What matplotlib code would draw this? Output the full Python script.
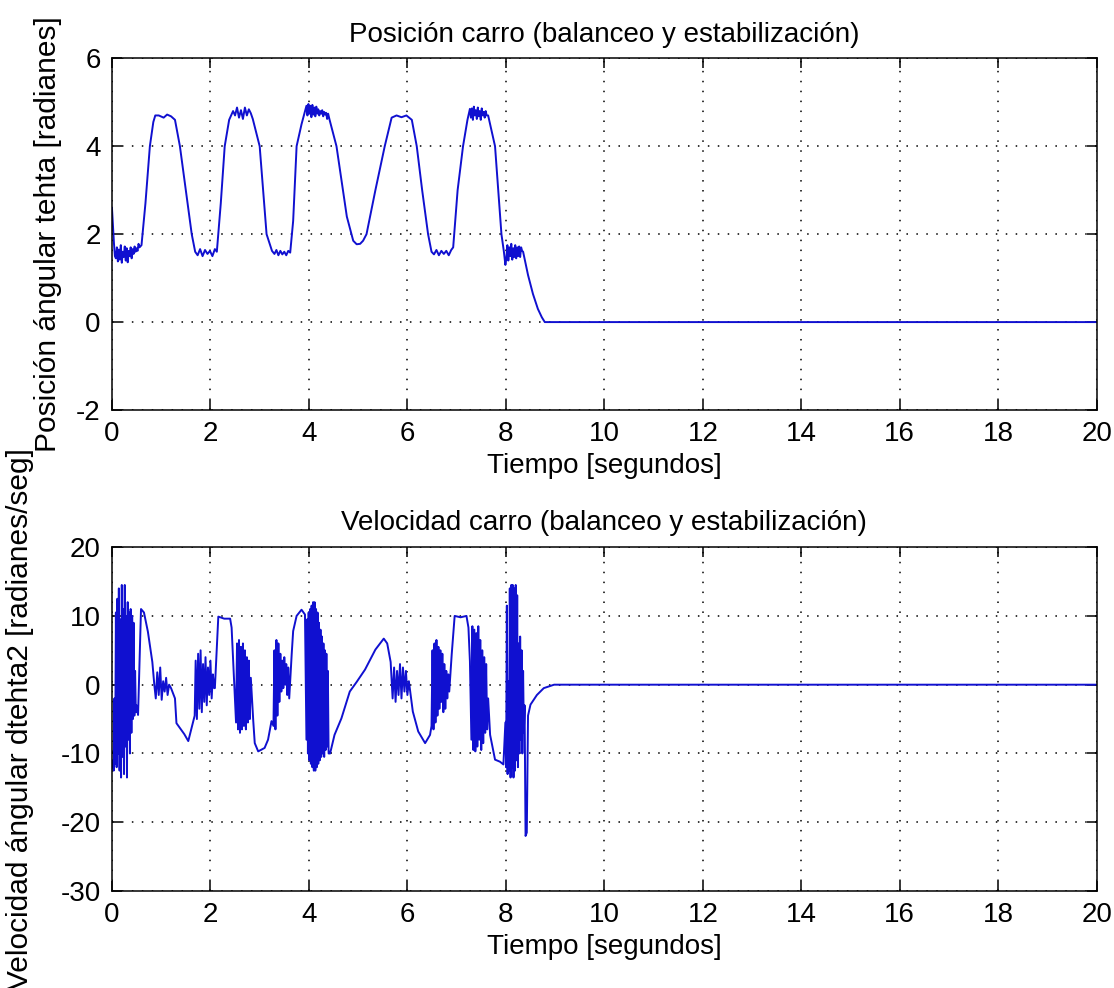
"""
  Pendulum cart: angular position and velocity vs time (two stacked panels)
"""
import matplotlib
matplotlib.use('Agg')
import matplotlib.pyplot as plt

# --- angular position theta [rad] ---
pos_t = [0.00, 0.02, 0.04, 0.06,
         0.08, 0.10, 0.12, 0.14, 0.16, 0.18, 0.20, 0.22, 0.24, 0.26, 0.28, 0.30, 0.32,
         0.34, 0.36, 0.38, 0.40, 0.42, 0.44, 0.46, 0.48, 0.50, 0.52, 0.54, 0.56,
         0.60, 0.68, 0.77, 0.84, 0.88,
         0.95, 1.05, 1.12, 1.20, 1.28,
         1.38, 1.50, 1.62, 1.69,
         1.74, 1.79, 1.84, 1.89, 1.94, 1.99, 2.04, 2.09, 2.13,
         2.21, 2.29, 2.38, 2.46,
         2.50, 2.54, 2.58, 2.62, 2.66, 2.70, 2.74, 2.78, 2.82, 2.86,
         3.00, 3.14, 3.25,
         3.30, 3.34, 3.38, 3.42, 3.46, 3.50, 3.54, 3.58, 3.62,
         3.68, 3.75, 3.85, 3.95,
         3.97, 3.99, 4.01, 4.03, 4.05, 4.07, 4.09, 4.11, 4.13, 4.15, 4.17, 4.19, 4.21,
         4.23, 4.25, 4.27, 4.29, 4.31, 4.33, 4.35, 4.37, 4.39, 4.42,
         4.56, 4.77, 4.90, 4.97, 5.04, 5.10,
         5.17, 5.35, 5.54, 5.68,
         5.78, 5.88, 5.98, 6.09,
         6.19, 6.30, 6.42, 6.49,
         6.54, 6.59, 6.64, 6.69, 6.74, 6.79, 6.84, 6.89, 6.93,
         7.02, 7.13, 7.22, 7.27,
         7.29, 7.31, 7.33, 7.35, 7.37, 7.39, 7.41, 7.43, 7.45, 7.47, 7.49, 7.51, 7.53,
         7.55, 7.57, 7.59, 7.61, 7.64,
         7.78, 7.91, 7.96, 7.99,
         8.01, 8.03, 8.05, 8.07, 8.09, 8.11, 8.13, 8.15, 8.17, 8.19, 8.21, 8.23, 8.25,
         8.27, 8.29, 8.31, 8.33, 8.35,
         8.45, 8.55, 8.65, 8.73, 8.79, 20.0]
pos = [2.60, 2.20, 1.80, 1.50,
       1.45, 1.70, 1.38, 1.65, 1.42, 1.75, 1.35, 1.60, 1.48, 1.72, 1.40, 1.68, 1.36,
       1.62, 1.50, 1.70, 1.45, 1.66, 1.55, 1.72, 1.60, 1.68, 1.62, 1.78, 1.70,
       1.75, 2.70, 4.00, 4.55, 4.70,
       4.70, 4.65, 4.72, 4.68, 4.60,
       4.00, 3.00, 2.00, 1.60,
       1.52, 1.66, 1.50, 1.64, 1.55, 1.62, 1.50, 1.66, 1.60,
       2.70, 4.00, 4.60, 4.80,
       4.70, 4.88, 4.65, 4.82, 4.62, 4.88, 4.70, 4.84, 4.75, 4.62,
       4.00, 2.00, 1.62,
       1.55, 1.64, 1.52, 1.62, 1.54, 1.60, 1.52, 1.62, 1.58,
       2.30, 4.00, 4.50, 4.92,
       4.70, 4.96, 4.74, 4.92, 4.66, 4.94, 4.72, 4.88, 4.68, 4.90, 4.74, 4.84, 4.70,
       4.80, 4.74, 4.82, 4.68, 4.78, 4.72, 4.76, 4.62, 4.74, 4.60,
       4.00, 2.40, 1.85, 1.77, 1.78, 1.85,
       2.00, 3.00, 4.00, 4.65,
       4.70, 4.66, 4.70, 4.60,
       4.00, 3.00, 2.00, 1.60,
       1.54, 1.64, 1.52, 1.62, 1.55, 1.62, 1.52, 1.64, 1.70,
       3.00, 4.00, 4.60, 4.85,
       4.65, 4.86, 4.60, 4.90, 4.70, 4.82, 4.62, 4.88, 4.68, 4.80, 4.60, 4.86, 4.70,
       4.78, 4.65, 4.80, 4.70, 4.70,
       4.00, 2.00, 1.60, 1.30,
       1.45, 1.75, 1.40, 1.70, 1.50, 1.78, 1.42, 1.68, 1.48, 1.75, 1.45, 1.70, 1.50,
       1.72, 1.48, 1.70, 1.62, 1.60,
       1.07, 0.64, 0.30, 0.11, 0.00, 0.00]

# --- angular velocity dtheta [rad/s] ---
vel_t = [0.000, 0.020, 0.035, 0.050, 0.065, 0.080, 0.095, 0.110, 0.125, 0.140, 0.155,
         0.170, 0.185, 0.200, 0.215, 0.230, 0.245, 0.260, 0.275, 0.290, 0.305, 0.320,
         0.335, 0.350, 0.365, 0.380, 0.395, 0.410, 0.425, 0.440, 0.455, 0.470, 0.485,
         0.500,
         0.53, 0.59, 0.65, 0.73, 0.82, 0.86,
         0.89, 0.92, 0.95, 0.98, 1.01, 1.04, 1.07, 1.10, 1.13, 1.16, 1.20,
         1.28, 1.31, 1.47, 1.55, 1.64,
         1.68, 1.700, 1.725, 1.750, 1.775, 1.800, 1.825, 1.850, 1.875, 1.900, 1.925,
         1.950, 1.975, 2.000, 2.025, 2.050, 2.075,
         2.09, 2.16, 2.28, 2.40, 2.43, 2.50,
         2.52, 2.54, 2.56, 2.58, 2.60, 2.62, 2.64, 2.66, 2.68, 2.70, 2.72, 2.74, 2.76,
         2.78, 2.80, 2.82,
         2.87, 2.90, 2.97, 3.10, 3.17, 3.24,
         3.28, 3.30, 3.32, 3.34, 3.36, 3.38, 3.40, 3.42, 3.44, 3.46, 3.48, 3.50, 3.52,
         3.54, 3.56, 3.58, 3.60,
         3.65, 3.68, 3.75, 3.85, 3.92,
         3.950, 3.965, 3.980, 3.995, 4.010, 4.025, 4.040, 4.055, 4.070, 4.085, 4.100,
         4.115, 4.130, 4.145, 4.160, 4.175, 4.190, 4.205, 4.220, 4.235, 4.250, 4.265,
         4.280, 4.295, 4.310, 4.325, 4.340, 4.355, 4.370, 4.385, 4.400,
         4.43, 4.52, 4.66, 4.83, 4.97, 5.14, 5.35, 5.52, 5.59, 5.66,
         5.70, 5.73, 5.76, 5.79, 5.82, 5.85, 5.88, 5.91, 5.94, 5.97, 6.00, 6.03,
         6.11, 6.22, 6.36, 6.46,
         6.49, 6.51, 6.53, 6.55, 6.57, 6.59, 6.61, 6.63, 6.65, 6.67, 6.69, 6.71, 6.73,
         6.75, 6.77, 6.79, 6.81, 6.83, 6.85,
         6.90, 6.96, 7.08, 7.20, 7.24, 7.27,
         7.30, 7.32, 7.34, 7.36, 7.38, 7.40, 7.42, 7.44, 7.46, 7.48, 7.50, 7.52, 7.54,
         7.56, 7.58, 7.60, 7.62, 7.64,
         7.68, 7.78, 7.88, 7.95,
         7.990, 8.005, 8.020, 8.035, 8.050, 8.065, 8.080, 8.095, 8.110, 8.125, 8.140,
         8.155, 8.170, 8.185, 8.200, 8.215, 8.230, 8.245, 8.260, 8.275, 8.290, 8.305,
         8.320, 8.335, 8.350, 8.365, 8.380,
         8.40, 8.425, 8.45, 8.50, 8.63, 8.77, 8.98, 20.0]
vel = [-12.0, -11.0, -12.5, -2.0, -11.5, 10.5, -12.0, 12.5, -10.0, 14.0, -12.5,
       9.5, -13.5, 14.5, -10.5, 11.0, -13.0, 14.5, -9.0, 10.0, -13.5, 12.0,
       -8.0, 10.5, -10.0, 11.0, -7.0, 10.0, -5.0, 9.0, -4.5, 2.0, -4.0,
       -3.0,
       -4.4, 11.0, 10.5, 7.7, 3.3, 0.0,
       -2.0, 1.8, -1.5, 2.5, -2.2, 0.5, -1.0, 1.0, -1.5, 0.0, -0.5,
       -2.0, -5.6, -7.2, -8.2, -5.6,
       -4.5, 3.5, -5.0, 4.5, -3.5, 5.0, -4.0, 3.0, -2.5, 4.0, -3.0,
       2.5, -1.5, 3.5, -2.0, 1.5, -0.5,
       -0.5, 9.9, 9.6, 9.6, 8.3, -2.7,
       -5.5, 6.0, -6.5, 6.5, -7.0, 5.5, -6.5, 6.0, -6.0, 5.0, -6.5, 4.0, -5.5,
       3.5, -5.0, 1.0,
       -5.3, -8.5, -9.7, -9.2, -8.0, -5.3,
       -6.0, 5.0, -6.5, 6.5, -4.5, 6.0, -2.5, 4.5, -1.0, 3.5, -0.5, 4.0, 0.0,
       3.0, -1.5, 2.5, -2.0,
       4.4, 7.8, 10.0, 10.9, 10.2,
       -8.0, 9.5, -10.0, 10.5, -11.0, 11.0, -11.5, 11.5, -12.0, 12.0, -12.5,
       12.0, -12.5, 11.0, -12.0, 10.5, -11.5, 9.0, -11.0, 8.0, -10.5, 7.0,
       -10.0, 6.0, -10.5, 5.0, -9.5, 4.5, -9.0, 2.0, -10.0,
       -10.0, -7.3, -4.9, -1.0, 0.4, 2.2, 5.1, 6.7, 6.0, 3.3,
       -2.0, 2.5, -2.5, 2.0, -1.5, 3.0, -2.0, 2.5, -1.0, 2.0, -1.5, 0.5,
       -3.9, -6.8, -8.5, -7.3,
       -6.0, 5.0, -6.5, 6.0, -5.5, 6.5, -4.5, 5.5, -3.5, 5.0, -2.5, 4.5, -4.0,
       3.0, -3.5, 2.0, -2.0, 1.5, -1.0,
       4.4, 10.0, 9.8, 10.0, 8.3, 3.4,
       -8.0, 8.5, -9.5, 8.0, -9.7, 7.5, -9.0, 8.5, -8.0, 6.5, -9.5, 5.0, -8.5,
       4.0, -7.0, 3.0, -6.5, -2.0,
       -7.3, -10.9, -11.2, -11.6,
       -5.5, -12.0, 11.5, -13.0, 0.5, -12.5, 14.0, -13.5, 14.5, -12.0, 14.5,
       -13.5, 14.0, -12.5, 14.5, -11.0, 13.0, -12.0, 6.0, -10.0, 7.0, -8.0,
       5.0, -10.0, 2.0, -7.0, -3.0,
       -22.0, -21.5, -4.5, -2.9, -1.5, -0.5, 0.0, 0.0]

x_ticks = list(range(0, 21, 2))
pos_ticks = [-2, 0, 2, 4, 6]
vel_ticks = [-30, -20, -10, 0, 10, 20]

LINE_COLOR = '#1010d0'
TEXT_FONT = ['Liberation Sans', 'DejaVu Sans']

plt.rcParams['axes.unicode_minus'] = False
plt.rcParams['font.family'] = TEXT_FONT


def style_axes(ax, yticks):
    ax.set_xlim(0, 20)
    ax.set_ylim(yticks[0], yticks[-1])
    ax.set_xticks(x_ticks)
    ax.set_yticks(yticks)
    ax.grid(True, color='black', linestyle=(0, (1, 5.5)), linewidth=1.1)
    ax.tick_params(direction='in', length=7, width=1.1, top=True, right=True,
                   labelsize=20, pad=8)
    for sp in ax.spines.values():
        sp.set_linewidth(1.1)
    ax.set_xlabel('Tiempo [segundos]', fontsize=20, labelpad=4)


fig = plt.figure(figsize=(11.14, 9.88), dpi=100)
ax1 = fig.add_axes([0.1005, 0.585, 0.884, 0.356])
ax2 = fig.add_axes([0.1005, 0.0982, 0.884, 0.348])

ax1.plot(pos_t, pos, color=LINE_COLOR, linewidth=1.4)
style_axes(ax1, pos_ticks)
ax1.set_title('Posición carro (balanceo y estabilización)', fontsize=20, pad=12)
ax1.set_ylabel('Posición ángular tehta [radianes]', fontsize=21.5)
ax1.yaxis.set_label_coords(-0.051, 0.5)

ax2.plot(vel_t, vel, color=LINE_COLOR, linewidth=1.4)
style_axes(ax2, vel_ticks)
ax2.set_title('Velocidad carro (balanceo y estabilización)', fontsize=20, pad=12)
ax2.set_ylabel('Velocidad ángular dtehta2 [radianes/seg]', fontsize=21.5)
ax2.yaxis.set_label_coords(-0.079, 0.5)

fig.savefig('out.png', dpi=100)
